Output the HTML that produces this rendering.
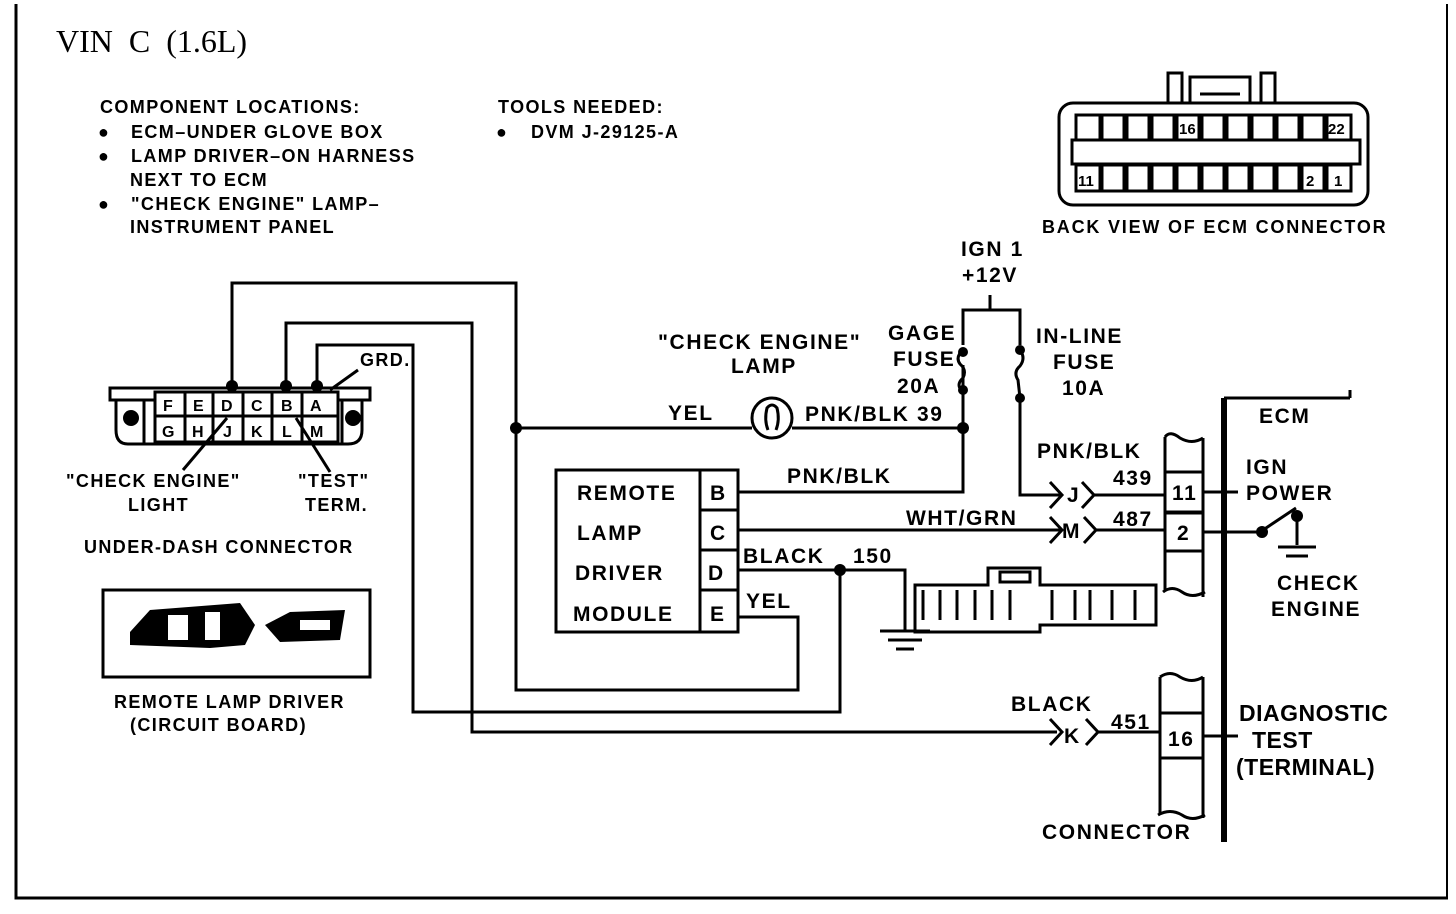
<!DOCTYPE html>
<html><head><meta charset="utf-8"><style>
html,body{margin:0;padding:0;background:#fff}
svg{display:block}
text{font-family:"Liberation Sans",sans-serif;font-weight:bold;fill:#000}
.s{font-size:18px;letter-spacing:1.4px}
.m{font-size:21px;letter-spacing:1.6px}
</style></head><body>
<svg width="1456" height="914" viewBox="0 0 1456 914" xmlns="http://www.w3.org/2000/svg">
<g fill="none" stroke="#000" stroke-width="3">
<polyline points="16,4 16,898 1448,898"/>
<line x1="1447" y1="4" x2="1447" y2="898" stroke-width="2"/>
</g>
<text x="56" y="52" style="font-family:'Liberation Serif',serif;font-weight:normal;font-size:32px;word-spacing:8px">VIN C (1.6L)</text>
<g class="s">
<text x="100" y="113">COMPONENT LOCATIONS:</text>
<text x="98" y="138">●</text><text x="131" y="138">ECM–UNDER GLOVE BOX</text>
<text x="98" y="162">●</text><text x="131" y="162">LAMP DRIVER–ON HARNESS</text>
<text x="130" y="186">NEXT TO ECM</text>
<text x="98" y="210">●</text><text x="131" y="210">"CHECK ENGINE" LAMP–</text>
<text x="130" y="233">INSTRUMENT PANEL</text>
<text x="498" y="113">TOOLS NEEDED:</text>
<text x="496" y="138">●</text><text x="531" y="138">DVM J-29125-A</text>
<text x="1042" y="233" style="letter-spacing:1.8px">BACK VIEW OF ECM CONNECTOR</text>
<text x="66" y="487">"CHECK ENGINE"</text>
<text x="128" y="511">LIGHT</text>
<text x="298" y="487">"TEST"</text>
<text x="305" y="511">TERM.</text>
<text x="84" y="553">UNDER-DASH CONNECTOR</text>
<text x="114" y="708">REMOTE LAMP DRIVER</text>
<text x="130" y="731">(CIRCUIT BOARD)</text>
<text x="360" y="366">GRD.</text>
</g>
<g fill="none" stroke="#000" stroke-width="3">
<rect x="1059" y="103" width="309" height="102" rx="14"/>
<rect x="1168" y="73" width="14" height="30"/>
<rect x="1261" y="73" width="14" height="30"/>
<path d="M1190,103 V77 H1250 V103"/>
<line x1="1200" y1="94" x2="1240" y2="94"/>
<rect x="1072" y="140" width="288" height="24"/>
</g>
<g fill="none" stroke="#000" stroke-width="3">
<rect x="1076" y="115" width="24" height="25"/><rect x="1102" y="115" width="22" height="25"/><rect x="1127" y="115" width="22" height="25"/><rect x="1152" y="115" width="22" height="25"/><rect x="1177" y="115" width="22" height="25"/><rect x="1202" y="115" width="22" height="25"/><rect x="1227" y="115" width="22" height="25"/><rect x="1252" y="115" width="22" height="25"/><rect x="1277" y="115" width="22" height="25"/><rect x="1302" y="115" width="22" height="25"/><rect x="1327" y="115" width="24" height="25"/>
<rect x="1076" y="165" width="24" height="26"/><rect x="1102" y="165" width="22" height="26"/><rect x="1127" y="165" width="22" height="26"/><rect x="1152" y="165" width="22" height="26"/><rect x="1177" y="165" width="22" height="26"/><rect x="1202" y="165" width="22" height="26"/><rect x="1227" y="165" width="22" height="26"/><rect x="1252" y="165" width="22" height="26"/><rect x="1277" y="165" width="22" height="26"/><rect x="1302" y="165" width="22" height="26"/><rect x="1327" y="165" width="24" height="26"/>
</g>
<g style="font-size:15px"><text x="1179" y="134">16</text><text x="1328" y="134">22</text><text x="1078" y="186">11</text><text x="1306" y="186">2</text><text x="1334" y="186">1</text></g>

<g fill="none" stroke="#000" stroke-width="3">
<path d="M110,388 H370 V400 H362 V430 Q362,444 348,444 H128 Q116,444 116,430 V400 H110 Z"/>
<rect x="155" y="392" width="183" height="50"/>
<line x1="155" y1="416" x2="338" y2="416"/>
<line x1="185" y1="392" x2="185" y2="442"/><line x1="213" y1="392" x2="213" y2="442"/><line x1="243" y1="392" x2="243" y2="442"/><line x1="272" y1="392" x2="272" y2="442"/><line x1="302" y1="392" x2="302" y2="442"/>
<line x1="116" y1="400" x2="155" y2="400"/><line x1="338" y1="400" x2="362" y2="400"/>
<line x1="144" y1="400" x2="144" y2="444"/><line x1="342" y1="400" x2="342" y2="444"/>
</g>
<circle cx="131" cy="418" r="8"/><circle cx="353" cy="418" r="8"/>
<g style="font-size:16px"><text x="163" y="411">F</text><text x="193" y="411">E</text><text x="221" y="411">D</text><text x="251" y="411">C</text><text x="281" y="411">B</text><text x="310" y="411">A</text>
<text x="162" y="437">G</text><text x="192" y="437">H</text><text x="223" y="437">J</text><text x="251" y="437">K</text><text x="282" y="437">L</text><text x="310" y="437">M</text></g>
<g stroke="#000" stroke-width="3">
<line x1="227" y1="418" x2="183" y2="470"/><line x1="296" y1="418" x2="330" y2="472"/><line x1="358" y1="370" x2="330" y2="390"/>
</g>

<rect x="103" y="590" width="267" height="87" fill="none" stroke="#000" stroke-width="3"/>
<path d="M130,632 L150,610 L240,603 L255,625 L245,645 L210,648 L130,645 Z" fill="#000"/>
<path d="M265,625 L290,612 L345,610 L340,640 L280,642 Z" fill="#000"/>
<path d="M168,615 h20 v25 h-20z M205,612 h15 v28 h-15z M300,620 h30 v10 h-30z" fill="#fff"/>

<g fill="none" stroke="#000" stroke-width="3">
<polyline points="232,386 232,283 516,283 516,690 798,690 798,617 738,617"/>
<polyline points="286,386 286,323 472,323 472,732 1057,732"/>
<polyline points="317,386 317,345 413,345 413,712 840,712 840,570"/>
<line x1="516" y1="428" x2="752" y2="428"/>
<line x1="792" y1="428" x2="963" y2="428"/>
<circle cx="772" cy="418" r="20"/>
<path d="M768,430 Q764,420 767,408 Q772,402 777,408 Q780,420 776,430"/>
<polyline points="738,492 963,492 963,365"/>
<polyline points="963,345 963,310 1020,310 1020,345"/>
<line x1="990" y1="295" x2="990" y2="310"/>
<path d="M963,350 Q955,357 960,364 Q967,370 963,378 Q955,385 963,392"/>
<polyline points="963,392 963,428"/>
<path d="M1020,350 Q1026,358 1020,366 Q1013,372 1018,380 L1020,398"/>
<polyline points="1020,398 1020,495 1060,495"/>
<line x1="738" y1="530" x2="1060" y2="530"/>
<polyline points="738,570 905,570 905,630"/>
<line x1="880" y1="631" x2="930" y2="631"/><line x1="888" y1="640" x2="922" y2="640"/><line x1="896" y1="649" x2="914" y2="649"/>
<polyline points="1050,482 1062,495 1050,508"/><polyline points="1082,482 1094,495 1082,508"/>
<line x1="1094" y1="495" x2="1165" y2="495"/>
<polyline points="1050,517 1062,530 1050,543"/><polyline points="1084,517 1096,530 1084,543"/>
<line x1="1096" y1="530" x2="1165" y2="530"/>
<polyline points="1050,719 1062,732 1050,745"/><polyline points="1086,719 1098,732 1086,745"/>
<line x1="1098" y1="732" x2="1160" y2="732"/>
<path d="M1165,437 Q1170,430 1180,438 Q1192,445 1203,438"/>
<line x1="1165" y1="437" x2="1165" y2="590"/><line x1="1203" y1="438" x2="1203" y2="597"/>
<path d="M1163,592 Q1172,585 1182,592 Q1192,599 1205,592"/>
<rect x="1165" y="472" width="38" height="40"/><rect x="1165" y="513" width="38" height="38"/>
<line x1="1203" y1="492" x2="1238" y2="492"/>
<polyline points="1203,532 1260,532 1296,508"/>
<line x1="1297" y1="518" x2="1297" y2="545"/>
<line x1="1278" y1="547" x2="1316" y2="547"/><line x1="1286" y1="556" x2="1308" y2="556"/>
<path d="M1160,677 Q1170,670 1180,677 Q1192,684 1203,677"/>
<line x1="1160" y1="677" x2="1160" y2="815"/><line x1="1203" y1="677" x2="1203" y2="818"/>
<path d="M1158,815 Q1170,808 1182,815 Q1192,822 1205,815"/>
<rect x="1160" y="713" width="43" height="45"/>
<line x1="1203" y1="736" x2="1238" y2="736"/>
<rect x="556" y="470" width="182" height="162"/>
<line x1="700" y1="470" x2="700" y2="632"/>
<line x1="700" y1="510" x2="738" y2="510"/><line x1="700" y1="550" x2="738" y2="550"/><line x1="700" y1="590" x2="738" y2="590"/>
<path d="M915,585 H988 V568 H1040 V585 H1156 V625 H1040 V632 H1020 V632 H915 Z"/>
<line x1="923" y1="590" x2="923" y2="620"/><line x1="940" y1="590" x2="940" y2="620"/><line x1="957" y1="590" x2="957" y2="620"/><line x1="975" y1="590" x2="975" y2="620"/><line x1="992" y1="590" x2="992" y2="620"/><line x1="1010" y1="590" x2="1010" y2="620"/><line x1="1052" y1="590" x2="1052" y2="620"/><line x1="1075" y1="590" x2="1075" y2="620"/><line x1="1090" y1="590" x2="1090" y2="620"/><line x1="1112" y1="590" x2="1112" y2="620"/><line x1="1135" y1="590" x2="1135" y2="620"/>
<rect x="1000" y="572" width="30" height="10"/>
<line x1="1350" y1="398" x2="1350" y2="390"/>
</g>
<line x1="1224" y1="398" x2="1224" y2="842" stroke="#000" stroke-width="6"/>
<line x1="1224" y1="398" x2="1350" y2="398" stroke="#000" stroke-width="3"/>
<g>
<circle cx="232" cy="386" r="6"/><circle cx="286" cy="386" r="6"/><circle cx="317" cy="386" r="6"/>
<circle cx="516" cy="428" r="6"/><circle cx="963" cy="428" r="6"/><circle cx="840" cy="570" r="6"/>
<circle cx="963" cy="352" r="5"/><circle cx="963" cy="390" r="5"/><circle cx="1020" cy="350" r="5"/><circle cx="1020" cy="398" r="5"/>
<circle cx="1262" cy="532" r="6"/><circle cx="1297" cy="516" r="6"/>
</g>
<g class="m">
<text x="961" y="256">IGN 1</text><text x="962" y="282">+12V</text>
<text x="888" y="340">GAGE</text><text x="893" y="366">FUSE</text><text x="897" y="393">20A</text>
<text x="1036" y="343">IN-LINE</text><text x="1053" y="369">FUSE</text><text x="1062" y="395">10A</text>
<text x="658" y="349">"CHECK ENGINE"</text><text x="731" y="373">LAMP</text>
<text x="668" y="420">YEL</text><text x="805" y="421">PNK/BLK  39</text>
<text x="787" y="483">PNK/BLK</text><text x="906" y="525">WHT/GRN</text>
<text x="743" y="563">BLACK</text><text x="853" y="563">150</text><text x="746" y="608">YEL</text>
<text x="577" y="500">REMOTE</text><text x="577" y="540">LAMP</text><text x="575" y="580">DRIVER</text><text x="573" y="621">MODULE</text>
<text x="710" y="500">B</text><text x="710" y="540">C</text><text x="708" y="580">D</text><text x="710" y="621">E</text>
<text x="1037" y="458">PNK/BLK</text><text x="1113" y="485">439</text><text x="1113" y="526">487</text>
<text x="1067" y="502" style="letter-spacing:0">J</text><text x="1062" y="538" style="letter-spacing:0">M</text>
<text x="1172" y="500">11</text><text x="1177" y="540">2</text>
<text x="1259" y="423">ECM</text><text x="1246" y="474">IGN</text><text x="1246" y="500">POWER</text>
<text x="1277" y="590">CHECK</text><text x="1271" y="616">ENGINE</text>
<text x="1011" y="711">BLACK</text><text x="1111" y="729">451</text><text x="1064" y="743" style="letter-spacing:0">K</text>
<text x="1168" y="746">16</text>
<text x="1042" y="839">CONNECTOR</text>
</g>
<g style="font-size:23px;letter-spacing:0.5px">
<text x="1239" y="721">DIAGNOSTIC</text><text x="1252" y="748">TEST</text><text x="1236" y="775">(TERMINAL)</text>
</g>
</svg>
</body></html>
